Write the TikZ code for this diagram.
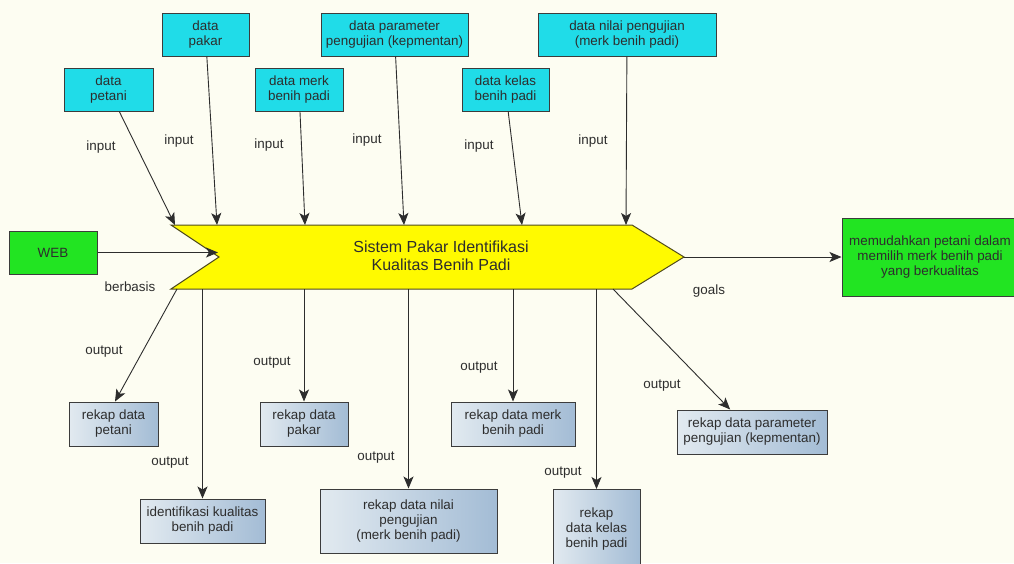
\documentclass[tikz,border=0pt]{standalone}
\usepackage{fontspec}
\setmainfont{Liberation Sans}
\usetikzlibrary{arrows.meta}

\definecolor{bgcream}{RGB}{253,253,242}
\definecolor{inbox}{RGB}{32,220,232}
\definecolor{webgreen}{RGB}{34,228,34}
\definecolor{sysyellow}{RGB}{255,250,0}
\definecolor{sysedge}{RGB}{80,75,30}
\definecolor{outlight}{RGB}{226,234,240}
\definecolor{outdark}{RGB}{163,188,213}
\definecolor{ink}{RGB}{45,45,45}
\definecolor{edge}{RGB}{60,60,60}

\tikzset{
  base/.style={font=\fontsize{13.4}{15}\selectfont, text=ink, align=center, inner sep=0pt},
  inputbox/.style={base, draw=edge, line width=1pt, fill=inbox},
  greenbox/.style={base, draw=edge, line width=1pt, fill=webgreen},
  outbox/.style={base, draw=edge, line width=1pt, left color=outlight, right color=outdark},
  lbl/.style={base},
  conn/.style={draw=ink, line width=0.9pt},
  arr/.style={conn, -{Stealth[length=12pt,width=10pt,inset=3pt]}}
}

\begin{document}
\begin{tikzpicture}[x=1pt,y=-1pt]
  \useasboundingbox (0,0) rectangle (1014,563);
  \fill[bgcream] (0,0) rectangle (1014,563);

  % central system shape
  \coordinate (sysTL) at (171,225);
  \coordinate (sysTR) at (632,225);
  \coordinate (sysTip) at (684,257);
  \coordinate (sysBR) at (632,289);
  \coordinate (sysBL) at (171,289);
  \coordinate (sysNotch) at (219,257);
  \draw[fill=sysyellow, draw=sysedge, line width=1pt]
    (sysTL) -- (sysTR) -- (sysTip) -- (sysBR) -- (sysBL) -- (sysNotch) -- cycle;
  \node[base, font=\fontsize{16}{18}\selectfont] (sys) at (441,256) {Sistem Pakar Identifikasi\\Kualitas Benih Padi};

  % input boxes
  \node[inputbox, minimum width=89pt, minimum height=43pt] (petani) at (108.5,89.5) {data\\petani};
  \node[inputbox, minimum width=87pt, minimum height=43pt] (pakar) at (205.5,34.5) {data\\pakar};
  \node[inputbox, minimum width=88pt, minimum height=43pt] (merk) at (299,89.5) {data merk\\benih padi};
  \node[inputbox, minimum width=147pt, minimum height=43pt] (param) at (394.5,34.5) {data parameter\\pengujian (kepmentan)};
  \node[inputbox, minimum width=87pt, minimum height=43pt] (kelas) at (505.5,89.5) {data kelas\\benih padi};
  \node[inputbox, minimum width=178pt, minimum height=43pt] (nilai) at (627,34.5) {data nilai pengujian\\(merk benih padi)};

  % inputs enter along the top edge
  \coordinate (in1) at (175,225);
  \coordinate (in2) at (217,225);
  \coordinate (in3) at (305,225);
  \coordinate (in4) at (404,225);
  \coordinate (in5) at (522,225);
  \coordinate (in6) at (626,225);
  \draw[arr] (petani) -- (in1);
  \draw[arr] (pakar) -- (in2);
  \draw[arr] (merk) -- (in3);
  \draw[arr] (param) -- (in4);
  \draw[arr] (kelas) -- (in5);
  \draw[arr] (nilai) -- (in6);

  \node[lbl] (li1) at (101,147) {input};
  \node[lbl] (li2) at (179,141) {input};
  \node[lbl] (li3) at (269,145) {input};
  \node[lbl] (li4) at (367,140) {input};
  \node[lbl] (li5) at (479,146) {input};
  \node[lbl] (li6) at (593,141) {input};

  % platform
  \node[greenbox, minimum width=88pt, minimum height=43pt] (web) at (53,252.5) {WEB};
  \coordinate (webTip) at (218,252.5);
  \draw[arr] (web) -- (webTip);
  \node[lbl] (lberbasis) at (130,287) {berbasis};

  % goal
  \node[greenbox, minimum width=176pt, minimum height=78pt] (goal) at (930,257)
    {memudahkan petani dalam\\memilih merk benih padi\\yang berkualitas};
  \draw[arr] (sysTip) -- (goal);
  \node[lbl] (lgoals) at (709,291) {goals};

  % output boxes
  \node[outbox, minimum width=89pt, minimum height=44pt] (rpetani) at (113.5,424) {rekap data\\petani};
  \node[outbox, minimum width=125pt, minimum height=44pt] (ident) at (202.5,521) {identifikasi kualitas\\benih padi};
  \node[outbox, minimum width=88pt, minimum height=44pt] (rpakar) at (304,424) {rekap data\\pakar};
  \node[outbox, minimum width=177pt, minimum height=64pt] (rnilai) at (408.5,521) {rekap data nilai\\pengujian\\(merk benih padi)};
  \node[outbox, minimum width=124pt, minimum height=44pt] (rmerk) at (513,424) {rekap data merk\\benih padi};
  \node[outbox, minimum width=87pt, minimum height=80pt, anchor=north] (rkelas) at (596.5,489) {};
  \node[base] (rkelastext) at (596.5,529) {rekap\\data kelas\\benih padi};
  \node[outbox, minimum width=150pt, minimum height=44pt] (rparam) at (752,432) {rekap data parameter\\pengujian (kepmentan)};

  % outputs leave along the bottom edge
  \coordinate (out1) at (177,289);
  \coordinate (out2) at (202.5,289);
  \coordinate (out3) at (304,289);
  \coordinate (out4) at (408.5,289);
  \coordinate (out5) at (513,289);
  \coordinate (out6) at (596.5,289);
  \coordinate (out7) at (613,289);
  \draw[arr] (out1) -- ([xshift=1.5pt]rpetani.north);
  \draw[arr] (out2) -- (ident.north);
  \draw[arr] (out3) -- (rpakar.north);
  \draw[arr] (out4) -- (rnilai.north);
  \draw[arr] (out5) -- (rmerk.north);
  \draw[arr] (out6) -- (rkelas.north);
  \draw[arr] (out7) -- (rparam);

  \node[lbl] (lo1) at (104,352) {output};
  \node[lbl] (lo2) at (170,463) {output};
  \node[lbl] (lo3) at (272,363) {output};
  \node[lbl] (lo4) at (376,458) {output};
  \node[lbl] (lo5) at (479,368) {output};
  \node[lbl] (lo6) at (563,473) {output};
  \node[lbl] (lo7) at (662,386) {output};
\end{tikzpicture}
\end{document}
